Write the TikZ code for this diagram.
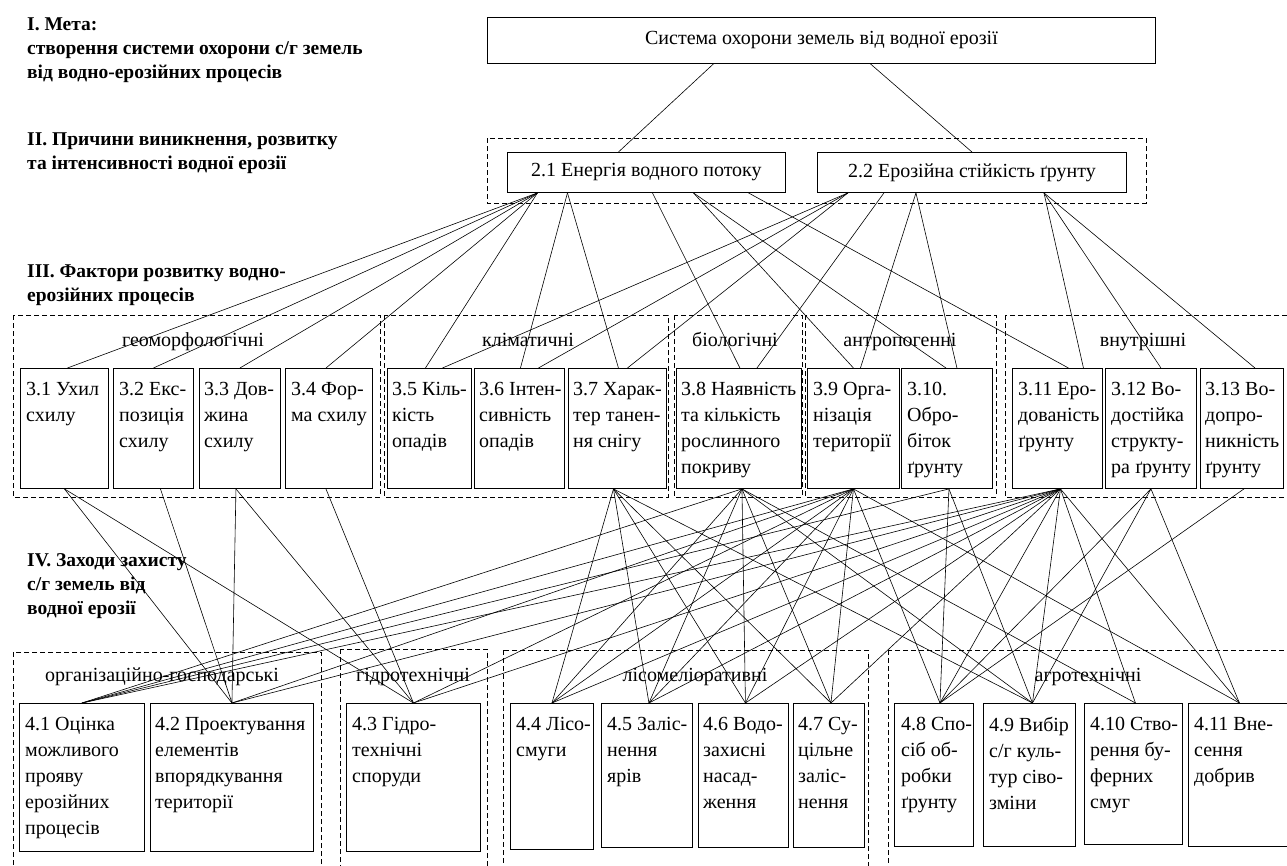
\documentclass[tikz,border=0pt]{standalone}
\usepackage{fontspec}
\setmainfont{Liberation Serif}
\newcommand\boxfont{\fontsize{20}{26}\selectfont}
\newcommand\headfont{\fontsize{19.5}{24}\selectfont\bfseries}
\begin{document}
\begin{tikzpicture}[x=1pt,y=-1pt,
    box/.style={draw, line width=0.9pt, anchor=north west, inner sep=0pt},
    txt/.style={anchor=north west, align=left, inner sep=0pt, font=\boxfont},
    grp/.style={draw, dash pattern=on 5pt off 3pt, line width=0.7pt},
    lbl/.style={anchor=base, inner sep=0pt, font=\boxfont},
    head/.style={anchor=north west, align=left, inner sep=0pt, font=\headfont},
    link/.style={line width=0.6pt}]
\useasboundingbox (0,0) rectangle (1287,865);

% headings
\node[head] (h1) at (27,18) {I. Мета:\\створення системи охорони с/г земель\\від водно-ерозійних процесів};
\node[head] (h2) at (27,133) {II. Причини виникнення, розвитку\\та інтенсивності водної ерозії};
\node[head] (h3) at (27,265) {III. Фактори розвитку водно-\\ерозійних процесів};
\node[head] (h4) at (27,553) {IV. Заходи захисту\\с/г земель від\\водної ерозії};

% level 1 and 2
\node[box, minimum width=668, minimum height=46, font=\boxfont] (top) at (487,17) {Система охорони земель від водної ерозії};
\draw[grp] (487,138) rectangle (1146,203);
\node[box, minimum width=278, minimum height=40, font=\boxfont] (b21) at (507,152) {2.1 Енергія водного потоку};
\node[box, minimum width=309, minimum height=40, font=\boxfont] (b22) at (817,152) {2.2 Ерозійна стійкість ґрунту};

% level 3 groups
\draw[grp] (13,315) rectangle (380,497);
\draw[grp] (384,315) rectangle (668,497);
\draw[grp] (674,315) rectangle (802,497);
\draw[grp] (805,315) rectangle (996,497);
\draw[grp] (1005,315) rectangle (1300,497);
\node[lbl] (g1) at (193,346) {геоморфологічні};
\node[lbl] (g2) at (528,346) {кліматичні};
\node[lbl] (g3) at (735,346) {біологічні};
\node[lbl] (g4) at (900,346) {антропогенні};
\node[lbl] (g5) at (1143,346) {внутрішні};

% level 3 boxes
\foreach \n/\x/\w in {31/20/88, 32/113/80, 33/199/81, 34/285/87, 35/387/84, 36/474/90,
    37/568/98, 38/676/125, 39/807/92, 310/901/91, 311/1012/90, 312/1105/91, 313/1200/83}
  \node[box, minimum width=\w, minimum height=120] (b\n) at (\x,368) {};
\node[txt] (t31) at ([shift={(6,14)}]b31.north west) {3.1 Ухил\\схилу};
\node[txt] (t32) at ([shift={(6,14)}]b32.north west) {3.2 Екс-\\позиція\\схилу};
\node[txt] (t33) at ([shift={(5,14)}]b33.north west) {3.3 Дов-\\жина\\схилу};
\node[txt] (t34) at ([shift={(6,14)}]b34.north west) {3.4 Фор-\\ма схилу};
\node[txt] (t35) at ([shift={(5,14)}]b35.north west) {3.5 Кіль-\\кість\\опадів};
\node[txt] (t36) at ([shift={(5,14)}]b36.north west) {3.6 Інтен-\\сивність\\опадів};
\node[txt] (t37) at ([shift={(5,14)}]b37.north west) {3.7 Харак-\\тер танен-\\ня снігу};
\node[txt] (t38) at ([shift={(5,14)}]b38.north west) {3.8 Наявність\\та кількість\\рослинного\\покриву};
\node[txt] (t39) at ([shift={(6,14)}]b39.north west) {3.9 Орга-\\нізація\\території};
\node[txt] (t310) at ([shift={(6,14)}]b310.north west) {3.10.\\Обро-\\біток\\ґрунту};
\node[txt] (t311) at ([shift={(6,14)}]b311.north west) {3.11 Еро-\\дованість\\ґрунту};
\node[txt] (t312) at ([shift={(6,14)}]b312.north west) {3.12 Во-\\достійка\\структу-\\ра ґрунту};
\node[txt] (t313) at ([shift={(5,14)}]b313.north west) {3.13 Во-\\допро-\\никність\\ґрунту};

% level 4 groups
\draw[grp] (13,652) rectangle (321,880);
\draw[grp] (340,649) rectangle (487,880);
\draw[grp] (503,650) rectangle (868,880);
\draw[grp] (888,650) rectangle (1300,880);
\node[lbl] (g6) at (162,681) {організаційно-господарські};
\node[lbl] (g7) at (413,681) {гідротехнічні};
\node[lbl] (g8) at (695,681) {лісомеліоративні};
\node[lbl] (g9) at (1088,681) {агротехнічні};

% level 4 boxes
\foreach \n/\x/\w/\h in {41/19/125/148, 42/150/163/148, 43/346/134/148, 44/510/83/146,
    45/601/91/144, 46/698/90/144, 47/793/71/144, 48/894/79/143, 49/983/92/143,
    410/1084/98/141, 411/1188/102/143}
  \node[box, minimum width=\w, minimum height=\h] (b\n) at (\x,703) {};
\node[txt] (t41) at ([shift={(6,14)}]b41.north west) {4.1 Оцінка\\можливого\\прояву\\ерозійних\\процесів};
\node[txt] (t42) at ([shift={(5,14)}]b42.north west) {4.2 Проектування\\елементів\\впорядкування\\території};
\node[txt] (t43) at ([shift={(6,14)}]b43.north west) {4.3 Гідро-\\технічні\\споруди};
\node[txt] (t44) at ([shift={(6,14)}]b44.north west) {4.4 Лісо-\\смуги};
\node[txt] (t45) at ([shift={(6,14)}]b45.north west) {4.5 Заліс-\\нення\\ярів};
\node[txt] (t46) at ([shift={(5,14)}]b46.north west) {4.6 Водо-\\захисні\\насад-\\ження};
\node[txt] (t47) at ([shift={(5,14)}]b47.north west) {4.7 Су-\\цільне\\заліс-\\нення};
\node[txt] (t48) at ([shift={(7,14)}]b48.north west) {4.8 Спо-\\сіб об-\\робки\\ґрунту};
\node[txt] (t49) at ([shift={(6,14)}]b49.north west) {4.9 Вибір\\с/г куль-\\тур сіво-\\зміни};
\node[txt] (t410) at ([shift={(6,14)}]b410.north west) {4.10 Ство-\\рення бу-\\ферних\\смуг};
\node[txt] (t411) at ([shift={(6,14)}]b411.north west) {4.11 Вне-\\сення\\добрив};

% links, level 1 to 3
\foreach \a/\i/\b/\j in {top/-108/b21/-28, top/49/b22/0,
    b21/-109/b31/3, b21/-109/b32/0, b21/-109/b33/0, b21/-109/b34/-3, b21/-109/b35/-4,
    b21/-79/b36/1, b21/-79/b37/1, b21/6/b38/1, b21/47/b39/0, b21/47/b310/-1, b21/102/b311/11,
    b22/-124/b35/13, b22/-124/b36/19, b22/-124/b37/10, b22/-88/b38/18,
    b22/-56/b39/7, b22/-56/b310/10, b22/72/b311/26, b22/72/b312/10, b22/72/b313/13}
  \draw[link] ([xshift=\i]\a.south) -- ([xshift=\j]\b.north);

% links, level 3 to 4
\foreach \a/\i/\b/\j in {b31/0/b42/0, b31/0/b43/0, b32/7/b42/0, b33/-4/b42/0, b33/-4/b43/0, b34/-3/b43/0,
    b37/-4/b44/0, b37/-4/b45/2, b37/-4/b46/2, b37/-4/b47/2, b37/-4/b49/3,
    b38/3/b41/0, b38/3/b44/0, b38/3/b45/2, b38/3/b46/2, b38/3/b47/2, b38/3/b49/3, b38/3/b410/2,
    b39/0/b41/0, b39/0/b42/0, b39/0/b43/0, b39/0/b44/0, b39/0/b45/2, b39/0/b46/2, b39/0/b47/2,
    b39/0/b48/6, b39/0/b411/0,
    b310/2/b41/0, b310/2/b48/6, b310/2/b49/3,
    b311/3/b41/0, b311/3/b42/0, b311/3/b43/0, b311/3/b44/0, b311/3/b45/2, b311/3/b46/2,
    b311/3/b47/2, b311/3/b48/6, b311/3/b49/3, b311/3/b410/2, b311/3/b411/0,
    b312/0/b48/6, b312/0/b49/3, b312/0/b411/0, b313/2/b48/6}
  \draw[link] ([xshift=\i]\a.south) -- ([xshift=\j]\b.north);
\end{tikzpicture}
\end{document}
